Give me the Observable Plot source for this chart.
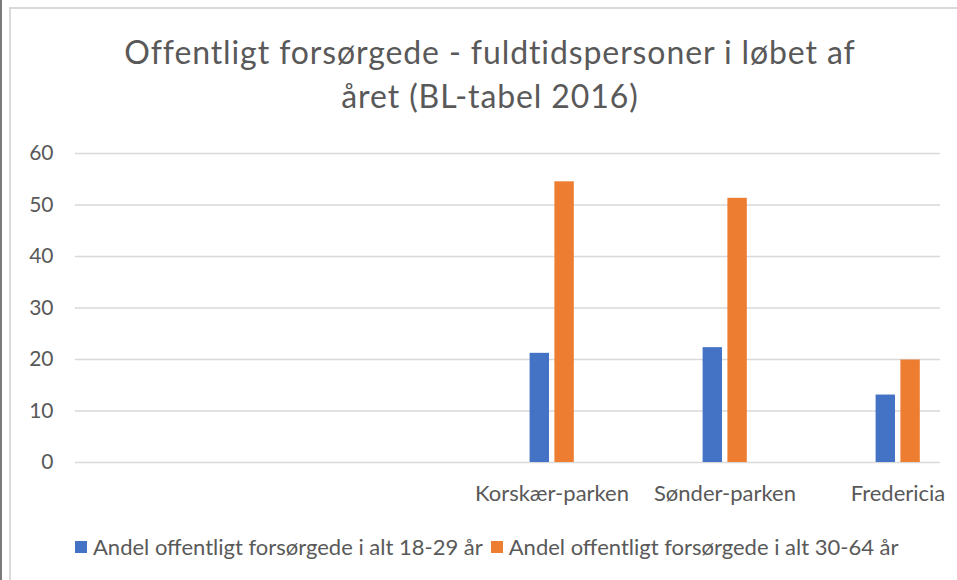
<!DOCTYPE html>
<html>
<head>
<meta charset="utf-8">
<script src="https://cdn.jsdelivr.net/npm/d3@7"></script>
<script src="https://cdn.jsdelivr.net/npm/@observablehq/plot@0.6"></script>
<style>
  html, body { margin: 0; padding: 0; background: #fff; }
  #wrap { position: absolute; left: 0; top: 0; width: 957px; height: 580px; overflow: hidden; background: #fff; }
  #edge { position: absolute; left: 0; top: 0; width: 2px; height: 580px; background: #7a7a7a; }
  #frame { position: absolute; left: 9px; top: 7px; width: 1000px; height: 620px; border-left: 2px solid #d9d9d9; border-top: 2px solid #d9d9d9; }
  #title { position: absolute; left: 0; top: 30px; width: 980px; text-align: center; font-family: Lato, "Open Sans", sans-serif; font-size: 32px; letter-spacing: 0.9px; line-height: 44px; color: #595959; font-weight: 400; }
  #chart { position: absolute; left: 0; top: 130px; }
  #chart svg { overflow: visible; }
  #legend { position: absolute; left: 75px; top: 533px; display: flex; align-items: center; font-family: Lato, "Open Sans", sans-serif; font-size: 22px; color: #595959; white-space: nowrap; }
  .sw { display: inline-block; width: 12px; height: 12px; margin-right: 6px; }
  .item { display: flex; align-items: center; margin-right: 8px; }
</style>
</head>
<body>
<div id="wrap">
  <div id="edge"></div>
  <div id="frame"></div>
  <div id="title">Offentligt forsørgede - fuldtidspersoner i løbet af<br>året (BL-tabel 2016)</div>
  <div id="chart"></div>
  <div id="legend"></div>
</div>
<script>
const categories = ["Korskær-parken", "Sønder-parken", "Fredericia"];
const seriesNames = ["Andel offentligt forsørgede i alt 18-29 år", "Andel offentligt forsørgede i alt 30-64 år"];
const values18to29 = [21.2, 22.3, 13.1];
const values30to64 = [54.5, 51.3, 19.9];
const seriesColors = ["#4472c4", "#ed7d31"];
const yTicks = [0, 10, 20, 30, 40, 50, 60];

const data1 = categories.map((c, i) => ({category: c, value: values18to29[i], series: seriesNames[0]}));
const data2 = categories.map((c, i) => ({category: c, value: values30to64[i], series: seriesNames[1]}));

const bandStep = 173.3;
const barW = 19.7;
const inset = (bandStep - barW) / 2;

const chart = Plot.plot({
  width: 957,
  height: 377,
  marginLeft: 75,
  marginRight: 17,
  marginTop: 23,
  marginBottom: 45,
  style: {fontFamily: "Lato, 'Open Sans', sans-serif", fontSize: "21px", color: "#595959", background: "transparent"},
  x: {type: "band", domain: categories, range: [464.05, 983.95], padding: 0, label: null},
  y: {domain: [0, 60], label: null},
  marks: [
    Plot.ruleY(yTicks, {stroke: "#d9d9d9", strokeWidth: 1.6}),
    Plot.barY(data1, {x: "category", y: "value", fill: seriesColors[0], insetLeft: inset, insetRight: inset, dx: -12.2}),
    Plot.barY(data2, {x: "category", y: "value", fill: seriesColors[1], insetLeft: inset, insetRight: inset, dx: 12.6}),
    Plot.axisY({ticks: yTicks, tickSize: 0, tickPadding: 22, label: null, fill: "#595959", fontSize: 21}),
    Plot.axisX({tickSize: 0, tickPadding: 23, label: null, fill: "#595959", fontSize: 22})
  ]
});
document.getElementById("chart").appendChild(chart);

const legend = document.getElementById("legend");
seriesNames.forEach((name, i) => {
  const item = document.createElement("div");
  item.className = "item";
  const sw = document.createElement("span");
  sw.className = "sw";
  sw.style.background = seriesColors[i];
  const t = document.createElement("span");
  t.textContent = name;
  item.appendChild(sw);
  item.appendChild(t);
  legend.appendChild(item);
});
</script>
</body>
</html>
